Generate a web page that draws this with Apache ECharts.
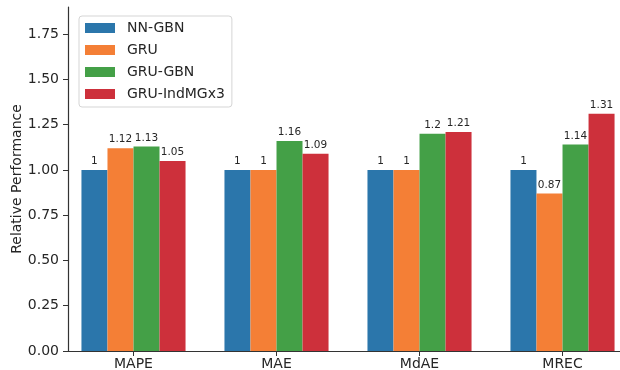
<!DOCTYPE html>
<html>
<head>
<meta charset="utf-8">
<script src="https://cdn.jsdelivr.net/npm/echarts@6/dist/echarts.min.js"></script>
<style>
  html, body { margin: 0; padding: 0; background: #fff; }
  #chart1 { width: 620px; height: 370px; }
</style>
</head>
<body>
<div id="chart1"></div>
<script>
var metricList = ['MAPE', 'MAE', 'MdAE', 'MREC'];
var modelList = ['NN-GBN', 'GRU', 'GRU-GBN', 'GRU-IndMGx3'];

var nnGbnList = [1, 1, 1, 1];
var gruList = [1.12, 1, 1, 0.87];
var gruGbnList = [1.13, 1.16, 1.2, 1.14];
var gruIndList = [1.05, 1.09, 1.21, 1.31];

var yTickList = [0, 0.25, 0.5, 0.75, 1, 1.25, 1.5, 1.75];

var colorList = ['#2b76ab', '#f47f36', '#44a047', '#cd303b'];

var font = 'DejaVu Sans';
var textColor = '#262626';

// bar width in axis units (one metric = one unit)
var barW = 0.182;

function makeSeries(name, values, k, color) {
	var data = [];
	for (var i = 0; i < values.length; i++) {
		data.push([i + (k - 1.5) * barW, values[i]]);
	}
	return {
		name: name,
		type: 'bar',
		data: data,
		barWidth: 26,
		barGap: '-100%',
		itemStyle: { color: color },
		label: {
			show: true,
			position: 'top',
			distance: 3,
			fontFamily: font,
			fontSize: 10.5,
			color: textColor,
			formatter: function(p) { return String(p.value[1]); }
		}
	};
}

var chart = echarts.init(document.getElementById('chart1'), null, { renderer: 'canvas' });

var option = {
	animation: false,
	backgroundColor: '#fff',
	grid: { left: 68, right: 0, top: 7, bottom: 19, containLabel: false, outerBoundsMode: 'none' },
	legend: {
		orient: 'vertical',
		left: 79,
		top: 16,
		z: 10,
		data: modelList,
		icon: 'rect',
		itemWidth: 30,
		itemHeight: 10,
		itemGap: 8,
		padding: [5, 7, 6, 6],
		backgroundColor: '#fff',
		borderColor: '#d5d5d5',
		borderWidth: 1,
		borderRadius: 3,
		textStyle: {
			fontFamily: font,
			fontSize: 14,
			color: textColor,
			lineHeight: 14,
			padding: [0, 0, 0, 7]
		}
	},
	xAxis: {
		type: 'value',
		min: -0.458,
		max: 3.402,
		splitLine: { show: false },
		axisLine: { show: true, onZero: false, lineStyle: { color: '#333', width: 1.2 } },
		axisTick: {
			show: true,
			length: 5,
			customValues: [0, 1, 2, 3],
			lineStyle: { color: '#333', width: 1 }
		},
		axisLabel: {
			customValues: [0, 1, 2, 3],
			margin: 6,
			fontFamily: font,
			fontSize: 14,
			color: textColor,
			formatter: function(v) { return metricList[Math.round(v)]; }
		}
	},
	yAxis: {
		type: 'value',
		min: 0,
		max: 1.9,
		name: 'Relative Performance',
		nameLocation: 'middle',
		nameGap: 44,
		nameMoveOverlap: false,
		nameTextStyle: { fontFamily: font, fontSize: 14, color: textColor },
		splitLine: { show: false },
		axisLine: { show: true, onZero: false, lineStyle: { color: '#333', width: 1.2 } },
		axisTick: {
			show: true,
			length: 5,
			customValues: yTickList,
			lineStyle: { color: '#333', width: 1 }
		},
		axisLabel: {
			customValues: yTickList,
			margin: 9,
			fontFamily: font,
			fontSize: 14,
			color: textColor,
			formatter: function(v) { return v.toFixed(2); }
		}
	},
	series: [
		makeSeries(modelList[0], nnGbnList, 0, colorList[0]),
		makeSeries(modelList[1], gruList, 1, colorList[1]),
		makeSeries(modelList[2], gruGbnList, 2, colorList[2]),
		makeSeries(modelList[3], gruIndList, 3, colorList[3])
	]
};

chart.setOption(option);
</script>
</body>
</html>
